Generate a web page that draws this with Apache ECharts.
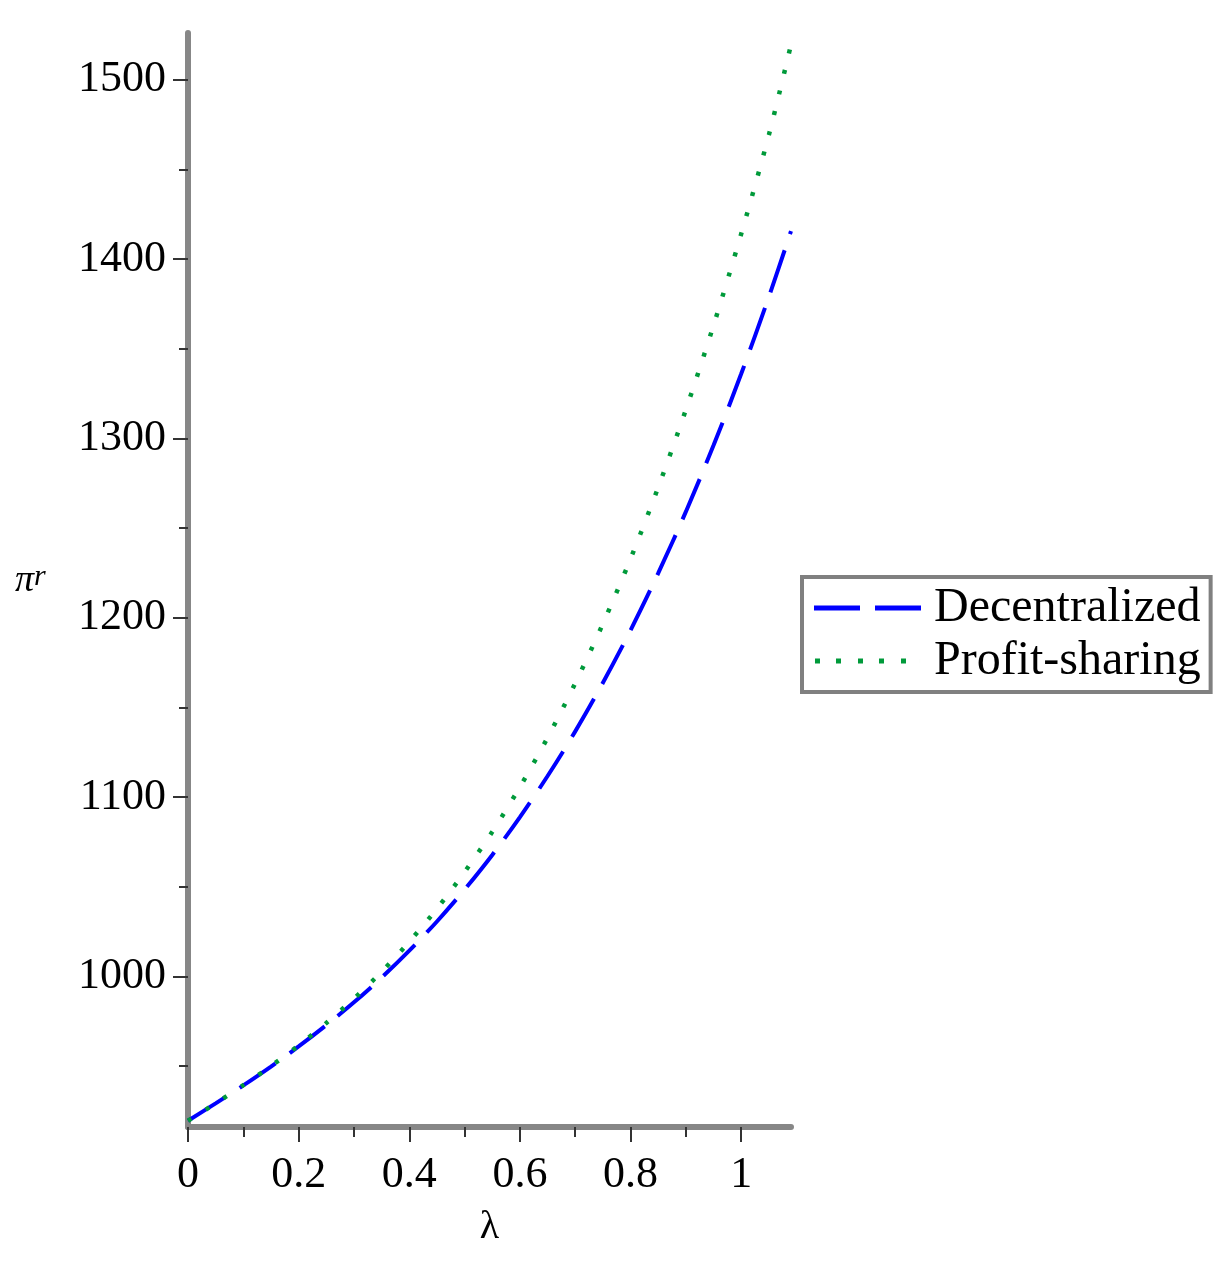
<!DOCTYPE html>
<html>
<head>
<meta charset="utf-8">
<script src="https://cdn.jsdelivr.net/npm/echarts@6/dist/echarts.min.js"></script>
<style>
html,body{margin:0;padding:0;background:#fff;}
#main{width:1232px;height:1266px;}
</style>
</head>
<body>
<div id="main"></div>
<script>
const lambda = [0,0.05,0.1,0.15,0.2,0.25,0.3,0.35,0.4,0.45,0.5,0.55,0.6,0.65,0.7,0.75,0.8,0.85,0.9,0.95,1.0,1.05,1.09];
const decentralized = [919.5,929.2,939.2,949.7,960.9,972.8,985.5,999.3,1014.3,1030.6,1048.4,1067.7,1088.8,1111.7,1136.6,1163.7,1193.0,1224.8,1259.1,1296.1,1336.0,1378.9,1415.5];
const profitSharing = [919.5,929.2,939.3,950.0,961.5,974.0,987.6,1002.6,1019.3,1037.7,1058.2,1080.6,1105.6,1133.1,1163.4,1196.6,1232.9,1272.7,1316.0,1363.0,1414.0,1469.2,1519.5];
const xLabelTicks = [0,0.2,0.4,0.6,0.8,1];
const xMinorTicks = [0.1,0.3,0.5,0.7,0.9];
const yLabelTicks = [1000,1100,1200,1300,1400,1500];
const yMinorTicks = [950,1050,1150,1250,1350,1450];
const seriesNames = ['Decentralized','Profit-sharing'];

const FONT = 'Liberation Serif';
const chart = echarts.init(document.getElementById('main'));
const xMin = 0, xMax = 1.09, yMin = 916, yMax = 1526;
const axisGray = '#878787';
const blue = '#0000ff', green = '#009a3a';

const dashIcon = 'path://M0,0L46,0L46,5L0,5Z M61,0L107,0L107,5L61,5Z';
const dotIcon = 'path://M2,0L7,0L7,5L2,5Z M23,0L28,0L28,5L23,5Z M45,0L50,0L50,5L45,5Z M66,0L71,0L71,5L66,5Z M88,0L93,0L93,5L88,5Z M107,0L107.01,0L107.01,5L107,5Z';

chart.setOption({
  backgroundColor: '#ffffff',
  animation: false,
  grid: {left: 188, top: 33, width: 603, height: 1094, containLabel: false},
  legend: {
    orient: 'vertical',
    left: 802, top: 577,
    padding: [7, 10, 7, 12],
    borderColor: '#808080', borderWidth: 4,
    itemWidth: 107, itemHeight: 5, itemGap: 5,
    textStyle: {fontFamily: FONT, fontSize: 48, lineHeight: 48, color: '#000', padding: [0,0,0,8]},
    data: [
      {name: seriesNames[0], icon: dashIcon, itemStyle: {color: blue}},
      {name: seriesNames[1], icon: dotIcon, itemStyle: {color: green}}
    ]
  },
  xAxis: [{
    type: 'value', min: xMin, max: xMax, position: 'bottom',
    splitLine: {show: false},
    axisLine: {show: true, onZero: false, lineStyle: {color: axisGray, width: 6}},
    axisTick: {show: true, customValues: xLabelTicks, length: 15, lineStyle: {color: '#333', width: 2}},
    axisLabel: {customValues: xLabelTicks, fontFamily: FONT, fontSize: 44, color: '#000', margin: 26,
      formatter: v => String(v)},
    name: 'λ', nameLocation: 'middle', nameGap: 80,
    nameTextStyle: {fontFamily: FONT, fontSize: 40, color: '#000'}
  }, {
    type: 'value', min: xMin, max: xMax, position: 'bottom',
    splitLine: {show: false},
    axisLine: {show: false},
    axisTick: {show: true, customValues: xMinorTicks, length: 10, lineStyle: {color: '#333', width: 2}},
    axisLabel: {show: false}
  }],
  yAxis: [{
    type: 'value', min: yMin, max: yMax, position: 'left',
    splitLine: {show: false},
    axisLine: {show: true, onZero: false, lineStyle: {color: axisGray, width: 6}},
    axisTick: {show: true, customValues: yLabelTicks, length: 15, lineStyle: {color: '#333', width: 2}},
    axisLabel: {customValues: yLabelTicks, fontFamily: FONT, fontSize: 44, color: '#000', margin: 22,
      formatter: v => String(v)}
  }, {
    type: 'value', min: yMin, max: yMax, position: 'left',
    splitLine: {show: false},
    axisLine: {show: false},
    axisTick: {show: true, customValues: yMinorTicks, length: 9, lineStyle: {color: '#333', width: 2}},
    axisLabel: {show: false}
  }],
  graphic: [{
    type: 'text', left: 15, top: 562,
    style: {
      text: '{p|π}{r|r}',
      rich: {
        p: {fontFamily: FONT, fontSize: 38, fontStyle: 'italic', fill: '#000'},
        r: {fontFamily: FONT, fontSize: 30, fontStyle: 'italic', fill: '#000', verticalAlign: 'top'}
      }
    }
  }],
  series: [{
    name: seriesNames[0], type: 'line', xAxisIndex: 0, yAxisIndex: 0,
    showSymbol: false, symbol: 'none', smooth: 0.3,
    data: lambda.map((x, i) => [x, decentralized[i]]),
    lineStyle: {color: blue, width: 4, type: [44, 17]},
    itemStyle: {color: blue}, z: 3
  }, {
    name: seriesNames[1], type: 'line', xAxisIndex: 0, yAxisIndex: 0,
    showSymbol: false, symbol: 'none', smooth: 0.3,
    data: lambda.map((x, i) => [x, profitSharing[i]]),
    lineStyle: {color: green, width: 4.5, type: [4, 17]},
    itemStyle: {color: green}, z: 4
  }]
});
</script>
</body>
</html>
